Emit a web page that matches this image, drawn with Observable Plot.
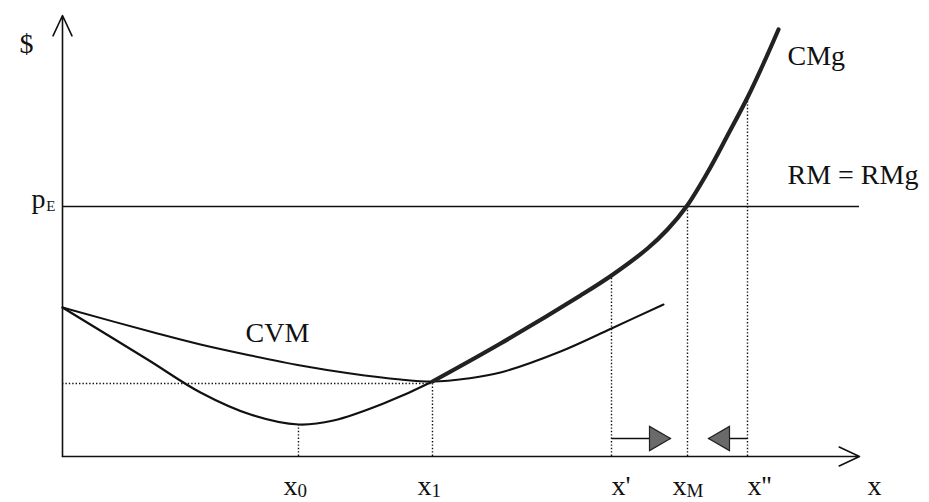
<!DOCTYPE html>
<html>
<head>
<meta charset="utf-8">
<script src="https://cdn.jsdelivr.net/npm/d3@7"></script>
<script src="https://cdn.jsdelivr.net/npm/@observablehq/plot@0.6"></script>
<style>
  html, body { margin: 0; padding: 0; background: #fff; }
  svg { display: block; }
</style>
</head>
<body>
<div id="chart"></div>
<script>
// ---- data (abstract units) ----
// Marginal cost curve CMg
const cmgX = [0, 85, 138, 188, 236, 271, 321, 370, 438, 518, 549, 585, 605, 624, 645, 665, 685, 701, 716];
const cmgY = [149, 97, 64, 42, 32, 36, 53, 75, 113, 161, 181, 208, 227, 250, 284, 321, 359, 393, 427];
// Average variable cost curve CVM
const cvmX = [0, 95, 138, 188, 238, 288, 338, 370, 405, 438, 498, 549, 601];
const cvmY = [149, 123, 112, 101, 91, 83, 77, 75, 78, 84, 105, 128, 152];
// Price level pE (RM = RMg) and min CVM level
const priceLevel = 250;
const cvmMinLevel = 73;
// tick positions along x, their labels and the curve height reached by the guide lines
const tickX = [236, 370, 549, 625, 685];
const tickNames = ["x", "x", "x'", "x", "x''"];
const tickSubs = ["0", "1", "", "M", ""];
const tickTop = [32, 75, 181, 250, 359];
// adjustment arrows (from x' and from x'' towards xM)
const arrowFrom = [549, 685];
const arrowTo = [608, 646];
const arrowLevel = 18;
// axes extent
const xAxisEnd = 797;
const yAxisEnd = 441;
const xAxisName = "x";
const yAxisName = "$";
const curveNames = ["CMg", "CVM", "RM = RMg"];
const priceName = "p";
const priceSub = "E";

// ---- build tables ----
const cmg = cmgX.map((x, i) => ({x, y: cmgY[i]}));
const cvm = cvmX.map((x, i) => ({x, y: cvmY[i]}));
const ticks = tickX.map((x, i) => ({x, name: tickNames[i], sub: tickSubs[i], top: tickTop[i]}));
const arrows = arrowFrom.map((f, i) => ({from: f, to: arrowTo[i], y: arrowLevel}));
const x1Tick = tickX[1];

const ink = "#111";
const font = "Liberation Serif, Times New Roman, serif";

const chart = Plot.plot({
  width: 929,
  height: 502,
  marginLeft: 62,
  marginRight: 67,
  marginTop: 16,
  marginBottom: 46,
  x: {domain: [0, 800], axis: null},
  y: {domain: [0, 440], axis: null},
  style: {fontFamily: font, background: "#fff", color: ink},
  marks: [
    // dotted guides
    Plot.ruleY([cvmMinLevel], {x1: 0, x2: x1Tick, stroke: ink, strokeWidth: 1.4, strokeDasharray: "1.4,2"}),
    Plot.ruleX(ticks, {x: "x", y1: 0, y2: "top", stroke: ink, strokeWidth: 1.4, strokeDasharray: "1.4,2"}),
    // price line
    Plot.ruleY([priceLevel], {x1: 0, x2: xAxisEnd, stroke: ink, strokeWidth: 1.6}),
    // curves
    Plot.line(cvm, {x: "x", y: "y", curve: "catmull-rom", stroke: ink, strokeWidth: 2}),
    Plot.line(cmg, {x: "x", y: "y", curve: "catmull-rom", stroke: ink, strokeWidth: 2.2}),
    Plot.line(cmg.filter(d => d.x >= x1Tick), {x: "x", y: "y", curve: "catmull-rom", stroke: "#222", strokeWidth: 4.2}),
    // axes with open arrowheads
    Plot.arrow([{x1: 0, y1: 0, x2: 0, y2: yAxisEnd}], {x1: "x1", y1: "y1", x2: "x2", y2: "y2", stroke: ink, strokeWidth: 1.6, headLength: 21, headAngle: 50}),
    Plot.arrow([{x1: 0, y1: 0, x2: xAxisEnd, y2: 0}], {x1: "x1", y1: "y1", x2: "x2", y2: "y2", stroke: ink, strokeWidth: 1.6, headLength: 21, headAngle: 50}),
    // adjustment arrows
    Plot.link(arrows, {x1: "from", y1: "y", x2: "to", y2: "y", stroke: ink, strokeWidth: 1.6}),
    Plot.dot(arrows.filter(d => d.to > d.from), {x: "to", y: "y", symbol: "triangle", rotate: 90, r: 9, dx: -14, fill: "#6a6a6a", stroke: "#222", strokeWidth: 1.2}),
    Plot.dot(arrows.filter(d => d.to < d.from), {x: "to", y: "y", symbol: "triangle", rotate: -90, r: 9, dx: 14, fill: "#6a6a6a", stroke: "#222", strokeWidth: 1.2}),
    // tick labels along x
    Plot.text(ticks.filter(d => d.sub !== ""), {x: "x", y: () => 0, text: "name", textAnchor: "end", dx: -1, dy: 30, fontSize: 28, fill: ink}),
    Plot.text(ticks.filter(d => d.sub !== ""), {x: "x", y: () => 0, text: "sub", textAnchor: "start", dx: -1, dy: 34, fontSize: 19, fill: ink}),
    Plot.text(ticks.filter(d => d.sub === ""), {x: "x", y: () => 0, text: "name", textAnchor: "start", dx: 0, dy: 30, fontSize: 28, fill: ink}),
    Plot.text([xAxisName], {x: () => xAxisEnd, y: () => 0, text: d => d, textAnchor: "start", dx: 8, dy: 30, fontSize: 28, fill: ink}),
    // y axis labels
    Plot.text([yAxisName], {x: () => 0, y: () => yAxisEnd, text: d => d, textAnchor: "middle", dx: -36, dy: 29, fontSize: 28, fill: ink}),
    Plot.text([priceName], {x: () => 0, y: () => priceLevel, text: d => d, textAnchor: "end", dx: -17, dy: -7, fontSize: 28, fill: ink}),
    Plot.text([priceSub], {x: () => 0, y: () => priceLevel, text: d => d, textAnchor: "end", dx: -7, dy: 0, fontSize: 15, fill: ink}),
    // curve labels
    Plot.text([curveNames[0]], {x: () => 725, y: () => 400, text: d => d, textAnchor: "start", fontSize: 28, fill: ink}),
    Plot.text([curveNames[1]], {x: () => 183, y: () => 123, text: d => d, textAnchor: "start", fontSize: 28, fill: ink}),
    Plot.text([curveNames[2]], {x: () => 725, y: () => 281, text: d => d, textAnchor: "start", fontSize: 28, fill: ink})
  ]
});
document.getElementById("chart").appendChild(chart);
</script>
</body>
</html>
